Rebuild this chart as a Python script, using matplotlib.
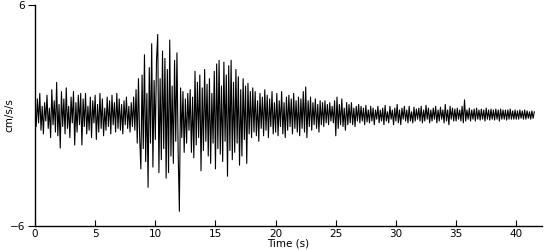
import matplotlib
matplotlib.use("Agg")
import matplotlib.pyplot as plt
import numpy as np

# Sample interval (s) and acceleration values (cm/s/s), read per 0.1 s
dt = 0.1
accel = [
    0.3, -0.6, 0.9, -0.4, 1.2, -0.8, 0.5, -1.0, 0.7, -0.3,
    1.1, -0.7, 0.4, -1.2, 1.4, -0.5, 0.8, -0.9, 1.8, -1.1,
    0.6, -1.77, 1.3, -0.6, 0.9, -1.0, 1.5, -0.7, 0.5, -1.2,
    1.0, -0.4, 1.3, -1.6, 0.7, -0.9, 1.1, -0.5, 1.2, -1.6,
    0.9, -0.6, 1.2, -1.0, 0.5, -0.8, 1.0, -1.2, 0.8, -0.4,
    1.1, -1.3, 0.6, -0.9, 1.2, -0.7, 0.9, -1.1, 0.4, -0.8,
    1.0, -0.6, 0.8, -1.0, 1.1, -0.5, 0.7, -0.9, 1.2, -0.7,
    0.9, -0.8, 0.6, -1.0, 0.8, -0.5, 1.0, -0.7, 0.5, -0.9,
    0.7, -0.6, 1.0, -0.8, 1.4, -1.5, 2.0, -1.2, -2.9, 2.2,
    -1.8, 3.3, -2.5, 1.2, -3.9, 2.6, -1.5, 3.9, -2.8, 1.9,
    -1.3, 3.0, 4.4, -3.1, 2.0, -2.4, 3.5, -1.8, 3.1, -3.4,
    2.5, -3.1, 4.1, -2.2, 1.6, -2.6, 3.0, -1.4, 3.4, -2.0,
    -5.2, 1.5, -1.2, 1.3, -2.0, 0.9, -1.5, 1.2, -0.8, 1.4,
    -2.0, 1.0, -2.3, 2.4, -1.6, 1.8, -1.2, 2.2, -3.0, 1.5,
    -1.9, 2.5, -1.4, 1.7, -2.2, 2.0, -2.6, 1.2, -1.5, 2.4,
    -2.9, 2.8, -1.8, 3.0, -2.1, 1.6, -2.5, 2.9, -1.4, 2.2,
    -3.3, 2.7, -1.9, 3.0, -2.4, 1.8, -2.0, 2.5, -1.5, 2.1,
    -2.7, 1.4, -2.2, 2.0, -1.3, 1.6, -2.6, 1.75, -1.0, 1.3,
    -1.2, 1.5, -0.9, 1.3, -1.1, 0.8, -1.4, 1.2, -0.7, 1.0,
    -1.1, 1.4, -0.8, 1.1, -1.2, 0.9, -0.6, 1.3, -1.0, 0.7,
    -0.9, 1.2, -1.1, 0.8, -0.6, 1.3, -1.0, 0.7, -1.2, 1.0,
    -0.8, 1.1, -0.6, 0.9, -1.0, 1.2, -0.7, 0.8, -0.9, 1.0,
    -1.1, 0.9, -0.7, 1.3, -0.9, 1.55, -1.2, 0.8, -0.6, 1.0,
    -0.8, 0.7, -0.5, 0.9, -0.7, 0.6, -0.9, 0.8, -0.5, 0.7,
    -0.6, 0.8, -0.4, 0.6, -0.5, 0.7, -0.3, 0.5, -0.4, 0.8,
    -1.1, 1.0, -0.7, 0.6, -0.5, 0.9, -0.6, 0.4, -0.8, 0.7,
    -0.5, 0.6, -0.4, 0.7, -0.5, 0.4, -0.6, 0.5, -0.3, 0.6,
    -0.4, 0.5, -0.3, 0.4, -0.5, 0.55, -0.35, 0.3, -0.4, 0.5,
    -0.3, 0.4, -0.5, 0.3, -0.2, 0.5, -0.4, 0.3, -0.3, 0.4,
    -0.5, 0.55, -0.3, 0.2, -0.4, 0.5, -0.2, 0.3, -0.5, 0.4,
    -0.3, 0.6, -0.4, 0.3, -0.5, 0.4, -0.2, 0.5, -0.3, 0.3,
    -0.4, 0.5, -0.3, 0.2, -0.4, 0.45, -0.3, 0.35, -0.2, 0.4,
    -0.3, 0.5, -0.4, 0.3, -0.3, 0.55, -0.2, 0.4, -0.4, 0.3,
    -0.3, 0.4, -0.2, 0.5, -0.4, 0.3, -0.3, 0.45, -0.2, 0.3,
    -0.4, 0.6, -0.3, 0.3, -0.5, 0.5, -0.2, 0.4, -0.3, 0.35,
    -0.3, 0.4, -0.2, 0.3, -0.3, 0.5, -0.4, 0.85, -0.3, 0.3,
    -0.2, 0.4, -0.3, 0.3, -0.2, 0.35, -0.3, 0.4, -0.2, 0.3,
    -0.25, 0.35, -0.2, 0.3, -0.3, 0.4, -0.2, 0.3, -0.25, 0.35,
    -0.2, 0.3, -0.25, 0.35, -0.2, 0.3, -0.3, 0.35, -0.2, 0.3,
    -0.2, 0.3, -0.25, 0.3, -0.2, 0.35, -0.2, 0.25, -0.2, 0.3,
    -0.2, 0.25, -0.2, 0.3, -0.15, 0.25, -0.2, 0.3, -0.2, 0.25,
    -0.15, 0.2, -0.2, 0.25, -0.15, 0.2,
]
x_ticks = [0, 5, 10, 15, 20, 25, 30, 35, 40]
y_ticks = [-6, 6]

t = np.arange(len(accel)) * dt

fig = plt.figure(figsize=(5.5, 2.5), dpi=100)
ax = fig.add_axes([0.0636, 0.096, 0.921, 0.884])
ax.plot(t, accel, color="black", linewidth=0.8)

ax.set_xlim(0, 42.1)
ax.set_ylim(-6, 6)
ax.set_xticks(x_ticks)
ax.set_yticks(y_ticks)
ax.spines["top"].set_visible(False)
ax.spines["right"].set_visible(False)
ax.spines["left"].set_linewidth(1.0)
ax.spines["bottom"].set_linewidth(1.0)
ax.tick_params(axis="x", direction="in", length=4, labelsize=7.5, pad=2)
ax.tick_params(axis="y", direction="out", length=5, labelsize=7.5, pad=2)
ax.set_xlabel("Time (s)", fontsize=7.5, labelpad=0)
ax.set_ylabel("cm/s/s", fontsize=7.5)
ax.yaxis.set_label_coords(-0.04, 0.5)

fig.savefig("out.png", dpi=100)
